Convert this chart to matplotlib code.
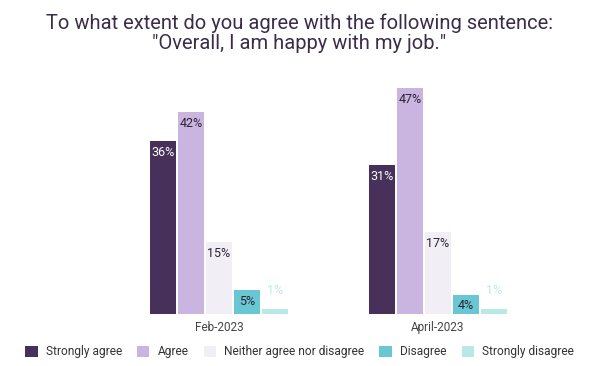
import matplotlib.pyplot as plt
import matplotlib as mpl
import numpy as np

mpl.rcParams['font.family'] = ['Roboto', 'DejaVu Sans']

groups = ["Feb-2023", "April-2023"]
answers = ["Strongly agree", "Agree", "Neither agree nor disagree", "Disagree", "Strongly disagree"]
feb = [36, 42, 15, 5, 1]
april = [31, 47, 17, 4, 1]
colors = ["#47315a", "#cab4e0", "#f2eef6", "#68c7d3", "#b8e9e7"]
label_colors = ["white", "#2b2233", "#2b2233", "#2b2233", "#b8e9e7"]

values = np.array([feb, april])

fig = plt.figure(figsize=(5.99, 3.66), dpi=100)
ax = fig.add_axes([109.5/599, 52/366, 438/599, 240/366])

x = np.arange(len(groups))
step = 0.128
width = 0.119
for i, ans in enumerate(answers):
    pos = x + (i - 2) * step
    bars = ax.bar(pos, values[:, i], width=width, color=colors[i], label=ans)
    for b, v in zip(bars, values[:, i]):
        if v >= 3:
            ax.text(b.get_x() + b.get_width()/2, v - 2.3, f"{v}%", ha='center', va='center',
                    fontsize=9, color=label_colors[i])
        else:
            ax.text(b.get_x() + b.get_width()/2, v + 3.8, f"{v}%", ha='center', va='center',
                    fontsize=9, color=label_colors[i])

ax.set_xlim(-0.5, 1.5)
ax.set_ylim(0, 50)
ax.set_yticks([])
ax.set_xticks(x)
ax.set_xticklabels(groups, fontsize=8.5, color="#444444")
ax.tick_params(axis='x', length=0, pad=5)
for s in ax.spines.values():
    s.set_visible(False)

fig.text(0.5, 1 - 33/366, 'To what extent do you agree with the following sentence:\n"Overall, I am happy with my job."',
         ha='center', va='center', fontsize=14.5, color="#3b2d4a", linespacing=1.05)

fig.legend(loc='lower center', bbox_to_anchor=(0.5, -0.008), ncol=5, frameon=False,
           fontsize=8.6, handlelength=1.06, handleheight=1.06, columnspacing=1.26,
           handletextpad=0.67, labelcolor="#333333")

fig.savefig("out.png", dpi=100)
